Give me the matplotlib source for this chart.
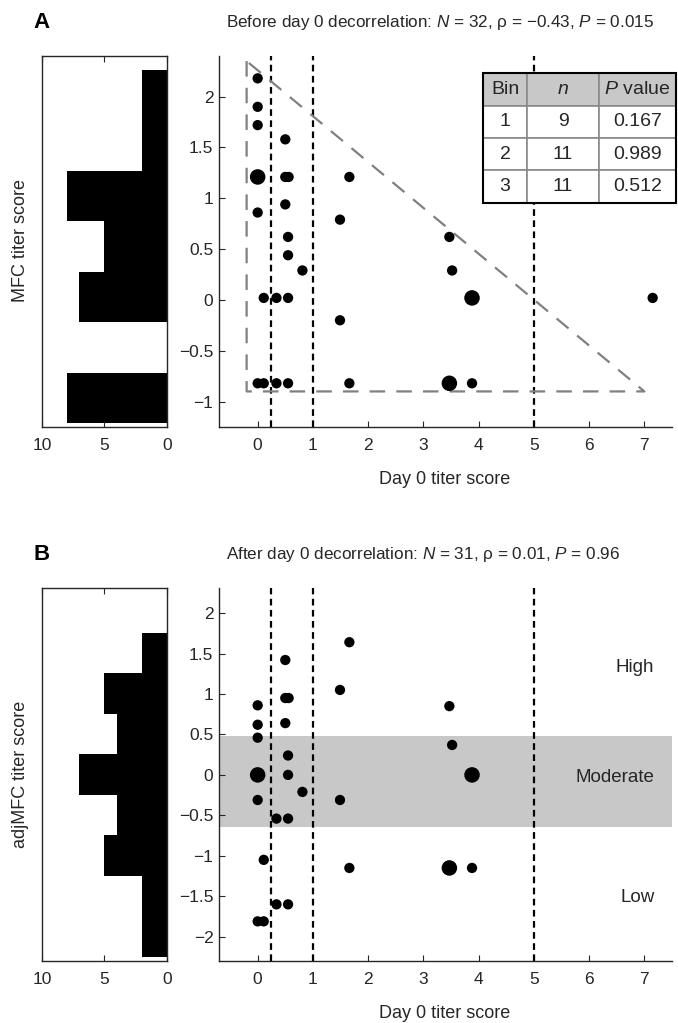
import numpy as np
import matplotlib
matplotlib.use('Agg')
import matplotlib.pyplot as plt
from matplotlib.patches import Rectangle

plt.rcParams['font.family'] = ['Liberation Sans', 'DejaVu Sans']
plt.rcParams['mathtext.fontset'] = 'custom'
plt.rcParams['mathtext.rm'] = 'Liberation Sans'
plt.rcParams['mathtext.it'] = 'Liberation Sans:italic'
plt.rcParams['font.size'] = 12

# Panel A: day 0 titer vs MFC titer score (mult = number of subjects at a point)
day0_a = [0, 0, 0, 0.5, 0, 0.5, 0.56, 1.66, 0, 0.5, 1.49, 0.55, 0.55, 0.81,
          3.47, 3.52, 3.88, 0.11, 0.34, 0.55, 7.15, 1.49,
          0, 0.11, 0.34, 0.55, 1.66, 3.47, 3.88]
mfc_a = [2.18, 1.90, 1.72, 1.58, 1.21, 1.21, 1.21, 1.21, 0.86, 0.94, 0.79, 0.62, 0.44, 0.29,
         0.62, 0.29, 0.02, 0.02, 0.02, 0.02, 0.02, -0.20,
         -0.82, -0.82, -0.82, -0.82, -0.82, -0.82, -0.82]
mult_a = [1, 1, 1, 1, 2, 1, 1, 1, 1, 1, 1, 1, 1, 1,
          1, 1, 2, 1, 1, 1, 1, 1,
          1, 1, 1, 1, 1, 2, 1]

# Panel B: day 0 titer vs adjusted MFC titer score
day0_b = [1.66, 0.5, 1.49, 0, 0.5, 0.56, 3.47, 0, 0.5, 0, 3.52, 0.55, 0, 0.55,
          3.88, 0.81, 0, 1.49, 0.34, 0.55, 0.11, 1.66, 3.47, 3.88, 0.34, 0.55, 0, 0.11]
adj_b = [1.64, 1.42, 1.05, 0.86, 0.95, 0.95, 0.85, 0.62, 0.64, 0.46, 0.37, 0.24, 0, 0,
         0, -0.21, -0.31, -0.31, -0.54, -0.54, -1.05, -1.15, -1.15, -1.15, -1.60, -1.60, -1.81, -1.81]
mult_b = [1, 1, 1, 1, 1, 1, 1, 1, 1, 1, 1, 1, 2, 1,
          2, 1, 1, 1, 1, 1, 1, 1, 2, 1, 1, 1, 1, 1]

# histogram counts, bottom bin to top bin
hist_a_counts = [8, 0, 7, 5, 8, 2, 2]
hist_b_counts = [2, 2, 5, 4, 7, 4, 5, 2]

# day 0 bin cut-offs and the region of panel A
cutoffs = [0.25, 1, 5]
region_x = [-0.2, -0.2, 7.0, -0.2]
region_y = [2.35, -0.9, -0.9, 2.35]

# moderate band in panel B
moderate_band = (-0.64, 0.48)

table_bins = ['1', '2', '3']
table_n = ['9', '11', '11']
table_p = ['0.167', '0.989', '0.512']

title_a = r'Before day 0 decorrelation: $N$ = 32, ρ = −0.43, $P$ = 0.015'
title_b = r'After day 0 decorrelation: $N$ = 31, ρ = 0.01, $P$ = 0.96'

axcol = '#262626'
W, H = 678, 1023
TICK_FS = 12.5
LABEL_FS = 13


def fig_box(x0, y0, x1, y1):
    return [x0 / W, 1 - y1 / H, (x1 - x0) / W, (y1 - y0) / H]


def fmt(v):
    return f'{v:g}'.replace('-', '\u2212')


def style_scatter(ax, yticks, ylim):
    ax.set_xlim(-0.7, 7.5)
    ax.set_ylim(*ylim)
    ax.set_xticks(range(8))
    ax.set_xticklabels([fmt(v) for v in range(8)])
    ax.set_yticks(yticks)
    ax.set_yticklabels([fmt(v) for v in yticks])
    for s in ['top', 'right']:
        ax.spines[s].set_visible(False)
    for s in ['left', 'bottom']:
        ax.spines[s].set_color(axcol)
        ax.spines[s].set_linewidth(1.0)
    ax.tick_params(axis='x', direction='in', length=4, pad=8, colors=axcol, labelsize=TICK_FS)
    ax.tick_params(axis='y', direction='in', length=4, pad=4, colors=axcol, labelsize=TICK_FS)


def style_hist(ax, counts, ylim):
    ax.barh(np.arange(len(counts)) + 0.5, counts, height=1.0, color='black', linewidth=0)
    ax.set_xlim(10, 0)
    ax.set_ylim(*ylim)
    ax.set_xticks([10, 5, 0])
    ax.set_xticklabels(['10', '5', '0'])
    ax.set_yticks([])
    ax.tick_params(axis='x', direction='in', length=4, pad=8, colors=axcol,
                   labelsize=TICK_FS, top=True)
    for s in ax.spines.values():
        s.set_color(axcol)
        s.set_linewidth(1.0)


def dots(ax, x, y, m):
    sizes = np.where(np.array(m) == 2, 125, 55)
    ax.scatter(x, y, s=sizes, color='black', edgecolors='none', zorder=4)


fig = plt.figure(figsize=(W / 100, H / 100), dpi=100)

# ---- panel A
ax_ha = fig.add_axes(fig_box(42, 56, 167, 427))
style_hist(ax_ha, hist_a_counts, (-0.08, 7.28))
fig.text(21 / W, 1 - 241 / H, 'MFC titer score', rotation=90, fontsize=LABEL_FS,
         ha='center', va='center', color=axcol)

ax_a = fig.add_axes(fig_box(219, 56, 672, 427))
style_scatter(ax_a, [-1, -0.5, 0, 0.5, 1, 1.5, 2], (-1.25, 2.4))
for c in cutoffs:
    ax_a.axvline(c, color='black', lw=1.6, dashes=(3, 2), zorder=2)
ax_a.plot(region_x, region_y, color='#808080', lw=1.6, dashes=(7, 5), zorder=3)
dots(ax_a, day0_a, mfc_a, mult_a)

cell_text = [[b, n, p] for b, n, p in zip(table_bins, table_n, table_p)]
tb = [0.583, 0.604, 0.426, 0.35]
tbl = ax_a.table(cellText=cell_text, colLabels=['Bin', '$n$', '$P$ value'],
                 cellLoc='center', colWidths=[44, 72, 77], bbox=tb)
tbl.auto_set_font_size(False)
tbl.set_fontsize(14)
tbl.set_zorder(6)
for (r, c), cell in tbl.get_celld().items():
    cell.set_edgecolor('#8a8a8a')
    cell.set_linewidth(1.2)
    cell.set_facecolor('#c8c8c8' if r == 0 else 'white')
    cell.get_text().set_color(axcol)
    cell.set_clip_on(False)
ax_a.add_patch(Rectangle((tb[0], tb[1]), tb[2], tb[3], transform=ax_a.transAxes,
                         fill=False, edgecolor='black', lw=1.5, clip_on=False, zorder=7))

fig.text(42 / W, 1 - 23 / H, 'A', fontsize=16, fontweight='bold', ha='center', va='center')
fig.text(226 / W, 1 - 23 / H, title_a, fontsize=12.3, ha='left', va='center', color=axcol)
fig.text(445 / W, 1 - 480 / H, 'Day 0 titer score', fontsize=LABEL_FS, ha='center',
         va='center', color=axcol)

# ---- panel B
ax_hb = fig.add_axes(fig_box(42, 588, 167, 961))
style_hist(ax_hb, hist_b_counts, (-0.11, 9.10))
fig.text(21 / W, 1 - 774 / H, 'adjMFC titer score', rotation=90, fontsize=LABEL_FS,
         ha='center', va='center', color=axcol)

ax_b = fig.add_axes(fig_box(219, 588, 672, 961))
style_scatter(ax_b, [-2, -1.5, -1, -0.5, 0, 0.5, 1, 1.5, 2], (-2.3, 2.31))
ax_b.axhspan(*moderate_band, color='#c8c8c8', lw=0, zorder=0)
for c in cutoffs:
    ax_b.axvline(c, color='black', lw=1.6, dashes=(3, 2), zorder=2)
dots(ax_b, day0_b, adj_b, mult_b)
ax_b.text(7.18, 1.33, 'High', ha='right', va='center', fontsize=13.5, color=axcol)
ax_b.text(7.18, -0.03, 'Moderate', ha='right', va='center', fontsize=13.5, color=axcol)
ax_b.text(7.18, -1.52, 'Low', ha='right', va='center', fontsize=13.5, color=axcol)

fig.text(42 / W, 1 - 555 / H, 'B', fontsize=16, fontweight='bold', ha='center', va='center')
fig.text(226 / W, 1 - 555 / H, title_b, fontsize=12.3, ha='left', va='center', color=axcol)
fig.text(445 / W, 1 - 1014 / H, 'Day 0 titer score', fontsize=LABEL_FS, ha='center',
         va='center', color=axcol)

fig.savefig('out.png', dpi=100)
